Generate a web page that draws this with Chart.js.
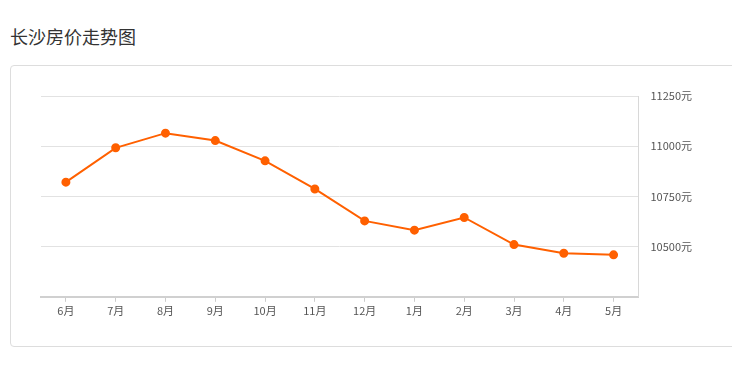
<!DOCTYPE html>
<html>
<head>
<meta charset="utf-8">
<script src="https://cdn.jsdelivr.net/npm/chart.js@4"></script>
<style>
  body { margin: 0; background: #fff; font-family: "Noto Sans CJK SC", sans-serif; }
  #title { position: absolute; left: 10px; top: 23px; font-size: 18px; color: #333; line-height: 26px; }
  #card { position: absolute; left: 10px; top: 65px; width: 760px; height: 280px; border: 1px solid #ddd; border-radius: 4px; }
  #wrap { position: absolute; left: 0; top: 0; width: 732px; height: 371px; }
</style>
</head>
<body>
<div id="title">长沙房价走势图</div>
<div id="card"></div>
<div id="wrap"><canvas id="myChart"></canvas></div>
<script>
  const months = ["6月", "7月", "8月", "9月", "10月", "11月", "12月", "1月", "2月", "3月", "4月", "5月"];
  const prices = [10821, 10992, 11065, 11028, 10927, 10787, 10628, 10582, 10645, 10510, 10467, 10459];
  const yMin = 10250;
  const yMax = 11250;
  const yStep = 250;

  const ctx = document.getElementById("myChart");
  new Chart(ctx, {
    type: "line",
    data: {
      labels: months,
      datasets: [
        {
          data: prices,
          borderColor: "#ff6000",
          backgroundColor: "#ff6000",
          borderWidth: 2,
          pointRadius: 3.5,
          pointHoverRadius: 5,
          tension: 0,
          fill: false,
        },
      ],
    },
    options: {
      responsive: true,
      maintainAspectRatio: false,
      animation: false,
      layout: { padding: { left: 41, top: 96, right: 28, bottom: 52 } },
      plugins: { legend: { display: false }, tooltip: { enabled: false } },
      scales: {
        x: {
          offset: true,
          grid: { display: true, drawOnChartArea: false, drawTicks: true, tickLength: 5, color: "#ccc", offset: false },
          border: { color: "#d0d0d0", width: 2 },
          ticks: { color: "#555", font: { size: 11, family: "Noto Sans CJK SC" }, padding: 2, maxRotation: 0 },
        },
        y: {
          position: "right",
          min: yMin,
          max: yMax,
          grid: { color: "#e2e2e2", drawTicks: false },
          border: { color: "#d8d8d8", width: 1 },
          ticks: {
            stepSize: yStep,
            padding: 12,
            color: "#555",
            font: { size: 11, family: "Noto Sans CJK SC" },
            callback: (v) => (v === yMin ? "" : v + "元"),
          },
        },
      },
    },
  });
</script>
</body>
</html>
